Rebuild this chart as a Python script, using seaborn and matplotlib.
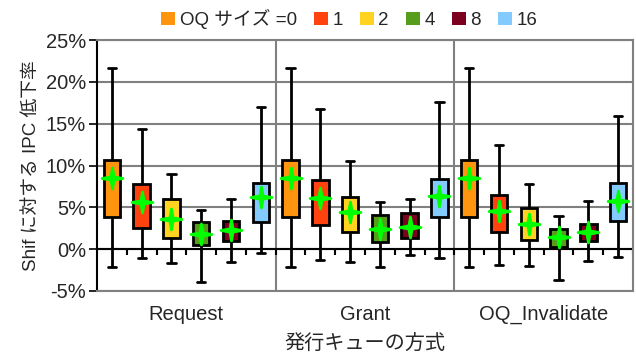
import numpy as np
import pandas as pd
import matplotlib
matplotlib.use("Agg")
import matplotlib.pyplot as plt
import matplotlib.transforms as mtransforms
from matplotlib.path import Path
from matplotlib.patches import Patch
import seaborn as sns

# ---- data (values in %) ----
methods = ["Request", "Grant", "OQ_Invalidate"]
oq_sizes = ["0", "1", "2", "4", "8", "16"]
legend_labels = ["OQ サイズ =0", "1", "2", "4", "8", "16"]
colors = ["#FF950E", "#FF420E", "#FFD320", "#579D1C", "#7E0021", "#83CAFF"]

# per method, per OQ size
whisk_low = [
    [-2.1, -1.1, -1.7, -3.9, -1.55, -0.4],
    [-2.1, -1.35, -1.5, -2.1, -0.7, -1.1],
    [-2.1, -1.9, -2.0, -3.7, -1.45, -0.9],
]
q1 = [
    [3.9, 2.5, 1.35, 0.5, 1.0, 3.3],
    [3.9, 2.9, 2.05, 0.85, 1.3, 3.8],
    [3.9, 2.05, 1.05, 0.3, 0.95, 3.35],
]
q3 = [
    [10.65, 7.8, 6.0, 3.2, 3.4, 7.9],
    [10.65, 8.3, 6.2, 4.05, 4.3, 8.4],
    [10.65, 6.5, 4.9, 2.4, 3.0, 7.95],
]
whisk_high = [
    [21.6, 14.4, 9.0, 4.7, 6.05, 17.0],
    [21.6, 16.8, 10.55, 5.6, 6.05, 17.55],
    [21.6, 12.5, 7.75, 4.0, 5.8, 15.9],
]
means = [
    [8.5, 5.6, 3.6, 1.8, 2.3, 6.2],
    [8.5, 6.1, 4.4, 2.4, 2.7, 6.3],
    [8.5, 4.6, 3.0, 1.4, 2.0, 5.8],
]

# ---- build long tables ----
rows = []
mean_rows = []
for i, m in enumerate(methods):
    for j, s in enumerate(oq_sizes):
        lo, a, b, hi = whisk_low[i][j], q1[i][j], q3[i][j], whisk_high[i][j]
        for v in [lo, a, (a + b) / 2, b, hi]:
            rows.append({"method": m, "size": s, "value": v})
        mean_rows.append({"method": m, "size": s, "value": means[i][j]})
df = pd.DataFrame(rows)
dfm = pd.DataFrame(mean_rows)

sns.set_theme(style="white")
plt.rcParams["font.family"] = ["Liberation Sans", "Noto Sans CJK JP", "DejaVu Sans"]

FS = 14.5
fig = plt.figure(figsize=(6.36, 3.58), dpi=100)
ax = fig.add_axes([97 / 636, 1 - 291 / 358, (633 - 97) / 636, (291 - 40) / 358])

palette = dict(zip(oq_sizes, colors))
sns.boxplot(data=df, x="method", y="value", hue="size", order=methods,
            hue_order=oq_sizes, palette=palette, whis=(0, 100), width=1.0,
            gap=0.45, dodge=True, linecolor="black", linewidth=2,
            saturation=1, showfliers=False,
            medianprops={"visible": False}, legend=False, ax=ax, zorder=3)

star = Path([(0, 1), (0.15, 0.15), (1, 0), (0.15, -0.15), (0, -1),
             (-0.15, -0.15), (-1, 0), (-0.15, 0.15), (0, 1)],
            [Path.MOVETO] + [Path.LINETO] * 7 + [Path.CLOSEPOLY])
sns.pointplot(data=dfm, x="method", y="value", hue="size", order=methods,
              hue_order=oq_sizes, palette=["#00FF00"] * 6, dodge=5 / 6,
              errorbar=None, linestyle="none", markers=star, markersize=15,
              legend=False, ax=ax, zorder=5)

ax.set_ylim(-5, 25)
ax.set_xlim(-0.5, 2.5)
ax.set_yticks(np.arange(-5, 26, 5))
ax.set_yticklabels([f"{int(v)}%" for v in np.arange(-5, 26, 5)], fontsize=FS)
ax.tick_params(axis="y", left=True, length=6, width=1.2, color="black", pad=2)
ax.tick_params(axis="x", bottom=False, labelsize=FS, pad=4)

# gridlines & frame
ax.yaxis.grid(True, color="#808080", linewidth=1.5, zorder=0)
ax.set_axisbelow(True)
for x in [0.5, 1.5]:
    ax.axvline(x, color="#808080", linewidth=1.5, zorder=1)
for sp in ["top", "right", "bottom"]:
    ax.spines[sp].set_color("#808080")
    ax.spines[sp].set_linewidth(1.5)
ax.spines["left"].set_color("black")
ax.spines["left"].set_linewidth(1.5)

# zero axis line with slot ticks
ax.axhline(0, color="black", linewidth=1.5, zorder=2)
trans = mtransforms.blended_transform_factory(ax.transData, ax.transAxes)
y0 = 5 / 30
slot_edges = [c - 0.5 + k / 6 for c in range(3) for k in range(1, 7)]
ax.vlines(slot_edges, y0 - 6 / 251, y0, color="black", linewidth=1.5,
          transform=trans, zorder=2)

ax.set_xlabel("発行キューの方式", fontsize=FS, labelpad=8)
ax.set_ylabel("Shif に対する IPC 低下率", fontsize=FS - 1, labelpad=4)

handles = [Patch(facecolor=c, edgecolor="none") for c in colors]
fig.legend(handles, legend_labels, loc="upper center", ncol=6,
           bbox_to_anchor=(0.549, 1.022), frameon=False, fontsize=13.5,
           handlelength=0.75, handleheight=0.75, handletextpad=0.25,
           columnspacing=0.9)

fig.savefig("out.png", dpi=100)
